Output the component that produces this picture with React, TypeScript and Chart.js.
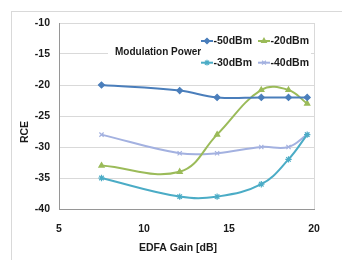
import React, { useEffect, useRef } from "react";
import { Chart, registerables } from "chart.js";
import { drawPoint } from "chart.js/helpers";

Chart.register(...registerables);

const gain = [7.5, 12.1, 14.3, 16.9, 18.5, 19.6];
const s50 = [-20, -20.9, -22, -22, -22, -22];
const s20 = [-33, -34, -28, -20.8, -20.8, -23];
const s30 = [-35, -38, -38, -36, -32, -28];
const s40 = [-28, -31, -31, -30, -30, -28];
const seriesLabels = ["-50dBm", "-20dBm", "-30dBm", "-40dBm"];
const legendTitle = "Modulation Power";
const xTitle = "EDFA Gain [dB]";
const yTitle = "RCE";
const xMin = 5, xMax = 20, xStep = 5;
const yMin = -40, yMax = -10, yStep = 5;

const FONT = "'Liberation Sans', Arial, sans-serif";

export default function App() {
  const ref = useRef<HTMLCanvasElement>(null);
  useEffect(() => {
    const canvas = ref.current!;
    const colors = ["#4A7EBB", "#9BBB59", "#4BACC6", "#A3B1E0"];
    const styles: any[] = ["rectRot", "triangle", "star", "crossRot"];
    const radii = [3, 3, 3.2, 3];
    const values = [s50, s20, s30, s40];
    const datasets = values.map((v, i) => ({
      label: seriesLabels[i],
      data: v.map((y, j) => ({ x: gain[j], y })),
      borderColor: colors[i],
      backgroundColor: colors[i],
      borderWidth: 2,
      pointStyle: styles[i],
      pointRadius: radii[i],
      pointBorderWidth: 1.2,
      pointBorderColor: colors[i],
      pointBackgroundColor: colors[i],
      tension: 0.4,
      fill: false,
    }));

    const decor = {
      id: "decor",
      beforeDraw(chart: any) {
        const ctx = chart.ctx;
        ctx.save();
        ctx.fillStyle = "#ffffff";
        ctx.fillRect(0, 0, chart.width, chart.height);
        ctx.strokeStyle = "#D9D9D9";
        ctx.lineWidth = 1;
        ctx.strokeRect(11.5, 11.5, 400, 400);
        ctx.restore();
      },
      beforeDatasetsDraw(chart: any) {
        const ctx = chart.ctx;
        const a = chart.chartArea;
        ctx.save();
        ctx.strokeStyle = "#D9D9D9";
        ctx.lineWidth = 1;
        ctx.beginPath();
        ctx.moveTo(Math.round(a.right) + 0.5, a.top);
        ctx.lineTo(Math.round(a.right) + 0.5, a.bottom);
        ctx.stroke();
        ctx.fillStyle = "#ffffff";
        ctx.fillRect(108, 30, 203, 44);
        ctx.fillStyle = "#1a1a1a";
        ctx.font = "bold 10px " + FONT;
        ctx.textAlign = "left";
        ctx.textBaseline = "middle";
        ctx.fillText(legendTitle, 115, 52);
        chart.data.datasets.forEach((ds: any, i: number) => {
          const col = i % 2;
          const row = Math.floor(i / 2);
          const x0 = 201 + col * 57;
          const y = 41 + row * 21.7;
          ctx.strokeStyle = ds.borderColor;
          ctx.lineWidth = 2;
          ctx.beginPath();
          ctx.moveTo(x0, y);
          ctx.lineTo(x0 + 12, y);
          ctx.stroke();
          ctx.fillStyle = ds.backgroundColor;
          ctx.lineWidth = 1.2;
          drawPoint(ctx, { pointStyle: ds.pointStyle, radius: ds.pointRadius - 0.3, rotation: 0, borderWidth: 1.2 } as any, x0 + 6, y);
          ctx.fillStyle = "#1a1a1a";
          ctx.font = "bold 10.5px " + FONT;
          ctx.fillText(ds.label, x0 + 12.5, y + 0.5);
        });
        ctx.restore();
      },
      afterDraw(chart: any) {
        const ctx = chart.ctx;
        ctx.save();
        ctx.fillStyle = "#1a1a1a";
        ctx.font = "bold 10.5px " + FONT;
        ctx.textAlign = "center";
        ctx.textBaseline = "middle";
        ctx.fillText(xTitle, 178, 248);
        ctx.translate(25, 132);
        ctx.rotate(-Math.PI / 2);
        ctx.fillText(yTitle, 0, 0);
        ctx.restore();
      },
    };

    const chart = new Chart(canvas, {
      type: "line",
      data: { datasets },
      plugins: [decor],
      options: {
        responsive: false,
        animation: false,
        layout: { padding: { left: 0, top: 23, right: 28, bottom: 0 } },
        plugins: { legend: { display: false }, tooltip: { enabled: false } },
        scales: {
          x: {
            type: "linear",
            min: xMin,
            max: xMax,
            ticks: { stepSize: xStep, color: "#1a1a1a", font: { family: FONT, size: 10.5, weight: "bold" }, padding: 14 },
            grid: { display: false, drawTicks: false },
            border: { display: true, color: "#969696", width: 1 },
            afterFit: (s: any) => { s.height = 51; },
          },
          y: {
            min: yMin,
            max: yMax,
            ticks: { stepSize: yStep, color: "#1a1a1a", font: { family: FONT, size: 10.5, weight: "bold" }, padding: 9 },
            grid: { color: "#D9D9D9", drawTicks: false },
            border: { display: true, color: "#969696", width: 1 },
            afterFit: (s: any) => { s.width = 59; },
          },
        },
      },
    });
    return () => chart.destroy();
  }, []);
  return (
    <div style={{ position: "fixed", left: 0, top: 0, width: 342, height: 260 }}>
      <canvas ref={ref} width={342} height={260} />
    </div>
  );
}
